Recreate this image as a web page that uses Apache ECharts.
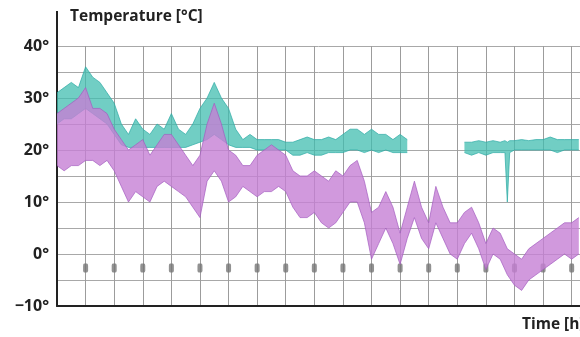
<!DOCTYPE html>
<html>
<head>
<meta charset="utf-8">
<script src="https://cdn.jsdelivr.net/npm/echarts@6/dist/echarts.min.js"></script>
<style>
  html, body { margin: 0; padding: 0; background: #fff; }
  #chart { width: 580px; height: 337px; }
</style>
</head>
<body>
<div id="chart"></div>
<script>
// hours on x, temperature in °C on y
const purpleHours = [0,6,12,18,24,30,36,42,48,54,60,66,72,78,84,90,96,102,108,114,
  120,126,132,138,144,150,156,162,168,174,180,186,192,198,204,210,216,222,228,234,
  240,246,252,258,264,270,276,282,288,294,300,306,312,318,324,330,336,342,348,354,
  360,366,372,378,384,390,396,402,408,414,420,426,432,438]
const purpleLow = [17,16,17,17,18,18,17,18,16,13,
  10,12,11,10,13,14,13,12,11,9,
  7,14,16,14,10,11,13,12,11,12,
  12,13,12,9,7,7,8,6,5,6,
  8,10,10,6,-1,2,5,2,-2,3,
  7,3,1,6,3,0,-1,2,4,1,
  -3,0,-1,-4,-6,-7,-5,-4,-3,-2,
  -1,0,-1,0]
const purpleHigh = [27,28,29,30,32,28,28,27,24,22,
  20,21,22,19,21,23,23,21,19,17,
  19,25,29,25,20,19,17,17,19,20,
  21,20,19,16,15,15,16,15,14,16,
  15,17,18,14,8,9,12,9,4,9,
  14,9,6,13,9,6,6,8,9,6,
  2,5,4,1,0,-1,1,2,3,4,
  5,6,6,7]

const cyanHours = [0,6,12,18,24,30,36,42,48,54,60,66,72,78,84,90,96,102,108,114,
  120,126,132,138,144,150,156,162,168,174,180,186,192,198,204,210,216,222,228,234,
  240,246,252,258,264,270,276,282,288,294,300,
  342,348,354,360,366,372,376,378,380,384,390,396,402,408,414,420,426,432,438]
const cyanLow = [25,26,26,27,28,27,26,25,23,21,
  20.5,20.5,20.5,20.5,20.5,20.5,20.5,20.5,20.5,21,
  21.5,22,23,22,21,20.5,20.5,20.5,20,20,
  20,20,20,19,19,19.5,19,19,19.5,19.5,
  19.5,20,20,19.5,20,19.5,20,19.5,19.5,19.5,null,
  19.5,19,19.5,19,19.5,19.5,19.5,10,19.5,20,20,20,20,20,20,19.5,20,20,20]
const cyanHigh = [31,32,33,32,36,34,33,31,29,25,
  23,26,24,23,25,24,27,24,23,25,
  28,30,33,30,28,24,22,23,22,22,
  22,22,21.5,21.5,22,22.5,22,22,22.5,22,
  23,24,24,23,24,23,23,22,23,22,null,
  21.5,21.5,21.8,21.5,21.8,21.5,21.8,21.5,21.8,21.8,22,21.8,22,22,22.5,22,22,22,22]

const markerHours = [24,48,72,96,120,144,168,192,216,240,264,288,312,336,360,384,408,432]
const markerTemp = [-2.7,-2.7,-2.7,-2.7,-2.7,-2.7,-2.7,-2.7,-2.7,-2.7,-2.7,-2.7,-2.7,-2.7,-2.7,-2.7,-2.7,-2.7]

const FONT = "'Open Sans', 'Noto Sans', sans-serif"

// runs of consecutive non-null indices
function runsOf(lo, hi) {
  const runs = []
  let cur = []
  lo.forEach((v, i) => {
    if (v === null || hi[i] === null) {
      if (cur.length) runs.push(cur)
      cur = []
    } else cur.push(i)
  })
  if (cur.length) runs.push(cur)
  return runs
}

// min/max band drawn as a polygon through the axis scales
function band(hours, lo, hi, fill, opacity, edge) {
  const runs = runsOf(lo, hi)
  return {
    type: "custom",
    coordinateSystem: "cartesian2d",
    encode: { x: 0, y: [1, 2] },
    data: hours.map((h, i) => [h, lo[i], hi[i]]),
    z: 3,
    renderItem(params, api) {
      if (params.dataIndex !== 0) return null
      const children = []
      runs.forEach((run) => {
        const top = run.map((i) => api.coord([hours[i], hi[i]]))
        const bottom = run.map((i) => api.coord([hours[i], lo[i]]))
        children.push({
          type: "polygon",
          shape: { points: top.concat(bottom.slice().reverse()) },
          style: { fill: fill, opacity: opacity },
        })
        children.push({ type: "polyline", shape: { points: top }, style: { stroke: edge, lineWidth: 0.7, fill: null } })
        children.push({ type: "polyline", shape: { points: bottom }, style: { stroke: edge, lineWidth: 0.7, fill: null } })
      })
      return { type: "group", children: children }
    },
  }
}

const chart = echarts.init(document.getElementById("chart"), null, { renderer: "canvas" })
chart.setOption({
  animation: false,
  grid: { left: 57, right: 0, top: 46, bottom: 31 },
  xAxis: {
    type: "value",
    min: 0,
    max: 439,
    interval: 24,
    axisLine: { show: true, onZero: false, lineStyle: { color: "#222", width: 2 } },
    axisTick: { show: false },
    axisLabel: { show: false },
    splitLine: { show: true, lineStyle: { color: "#9c9c9c", width: 1 } },
  },
  yAxis: {
    type: "value",
    min: -10,
    max: 40,
    interval: 5,
    axisLine: { show: true, lineStyle: { color: "#222", width: 2 } },
    axisTick: { show: false },
    axisLabel: {
      margin: 8,
      fontSize: 16,
      fontWeight: "bold",
      fontFamily: FONT,
      color: "#222",
      formatter: (v) => (v % 10 !== 0 ? "" : (v < 0 ? "\u2212" + -v : v) + "\u00b0"),
    },
    splitLine: { show: true, lineStyle: { color: "#a8a8a8", width: 1 } },
  },
  graphic: [
    {
      type: "line",
      shape: { x1: 57, y1: 11, x2: 57, y2: 47 },
      style: { stroke: "#222", lineWidth: 2 },
    },
    {
      type: "text",
      left: 70,
      top: 9,
      style: { text: "Temperature [\u00b0C]", fontSize: 15.5, fontWeight: "bold", fontFamily: FONT, fill: "#222" },
    },
    {
      type: "text",
      left: 522,
      top: 317,
      style: { text: "Time [h]", fontSize: 15.5, fontWeight: "bold", fontFamily: FONT, fill: "#222" },
    },
  ],
  series: [
    band(cyanHours, cyanLow, cyanHigh, "#42bdb0", 0.75, "#2aa9a3"),
    band(purpleHours, purpleLow, purpleHigh, "#c680d4", 0.8, "#a45cc0"),
    {
      type: "scatter",
      symbol: "roundRect",
      symbolSize: [5, 9],
      itemStyle: { color: "#767676" },
      data: markerHours.map((h, i) => [h, markerTemp[i]]),
      z: 2,
    },
  ],
})
</script>
</body>
</html>
